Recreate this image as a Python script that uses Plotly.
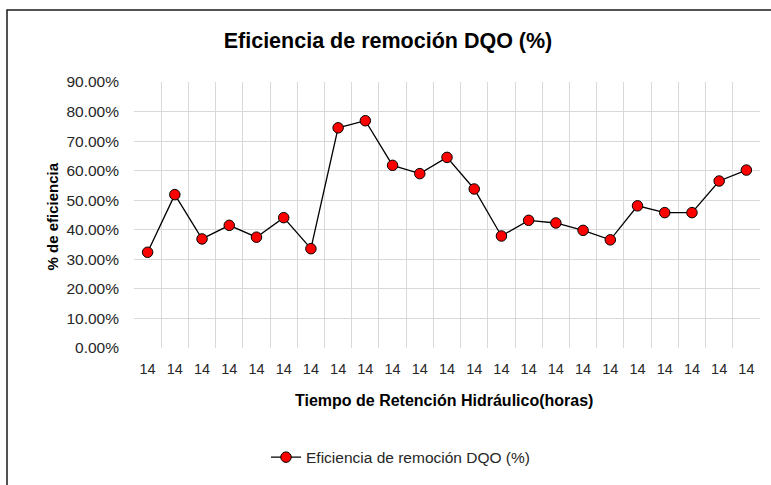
import plotly.graph_objects as go

# Data
categories = ["14"] * 23
eficiencia = [0.324, 0.519, 0.369, 0.415, 0.375, 0.441, 0.336, 0.745, 0.769,
              0.618, 0.590, 0.645, 0.538, 0.379, 0.432, 0.423, 0.398, 0.366,
              0.481, 0.458, 0.458, 0.565, 0.602]
series_name = "Eficiencia de remoción DQO (%)"
y_ticks = [0, 0.1, 0.2, 0.3, 0.4, 0.5, 0.6, 0.7, 0.8, 0.9]

x_pos = list(range(len(categories)))
boundaries = [i - 0.5 for i in range(len(categories) + 1)]

W, H = 771, 485
L, R, T, B = 134, 11, 82, 130
pw, ph = W - L - R, H - T - B

def px_x(p):
    return (p - L) / pw

def px_y(p):
    return (H - B - p) / ph

fig = go.Figure()
fig.add_trace(go.Scatter(
    x=x_pos, y=eficiencia, mode="lines+markers", name=series_name,
    line=dict(color="black", width=1.3),
    marker=dict(color="#ff0000", size=10.5, line=dict(color="black", width=1)),
))

grid = "#d9d9d9"
font_main = "Liberation Sans, Arial, sans-serif"

fig.update_layout(
    width=W, height=H,
    margin=dict(l=L, r=R, t=T, b=B),
    paper_bgcolor="white", plot_bgcolor="white",
    font=dict(family=font_main, color="#262626", size=14),
    title=dict(text="<b>Eficiencia de remoción DQO (%)</b>", x=388 / W, xref="container",
               xanchor="center", y=1 - 40 / H, yref="container", yanchor="middle",
               font=dict(size=21.5, color="black", family=font_main)),
    showlegend=True,
    legend=dict(orientation="h", x=px_x(266), y=px_y(450), xanchor="left", yanchor="top",
                font=dict(size=15.5, color="#262626"), bgcolor="rgba(0,0,0,0)"),
    xaxis=dict(
        range=[-0.5, len(categories) - 0.5],
        tickmode="array", tickvals=x_pos, ticktext=categories,
        showgrid=False, zeroline=False, showline=False, ticks="",
        ticklabelstandoff=10,
        tickfont=dict(size=14.5, color="#262626"),
        minor=dict(tickmode="array", tickvals=boundaries, showgrid=True,
                   gridcolor=grid, gridwidth=1, ticks=""),
    ),
    yaxis=dict(
        range=[0, 0.9], tickmode="array", tickvals=y_ticks, tickformat=".2%",
        showgrid=True, gridcolor=grid, gridwidth=1, zeroline=False, showline=False,
        ticks="", ticklabelstandoff=14,
        tickfont=dict(size=15.5, color="#262626"),
    ),
    annotations=[
        dict(text="<b>Tiempo de Retención Hidráulico(horas)</b>", xref="paper", yref="paper",
             x=px_x(444), y=px_y(409), xanchor="center", yanchor="middle", showarrow=False,
             font=dict(size=16, color="black")),
        dict(text="<b>% de eficiencia</b>", xref="paper", yref="paper",
             x=px_x(52), y=px_y(220), xanchor="center", yanchor="middle", showarrow=False,
             textangle=-90, font=dict(size=15, color="black")),
    ],
    shapes=[
        dict(type="rect", xref="paper", yref="paper",
             x0=px_x(7), x1=px_x(790), y0=px_y(500), y1=px_y(8),
             line=dict(color="#1a1a1a", width=1.5), fillcolor="rgba(0,0,0,0)", layer="below"),
    ],
)

fig.write_html("out.html", config={"displayModeBar": False},
               post_script="document.body.style.margin='0';document.body.style.overflow='hidden';")
